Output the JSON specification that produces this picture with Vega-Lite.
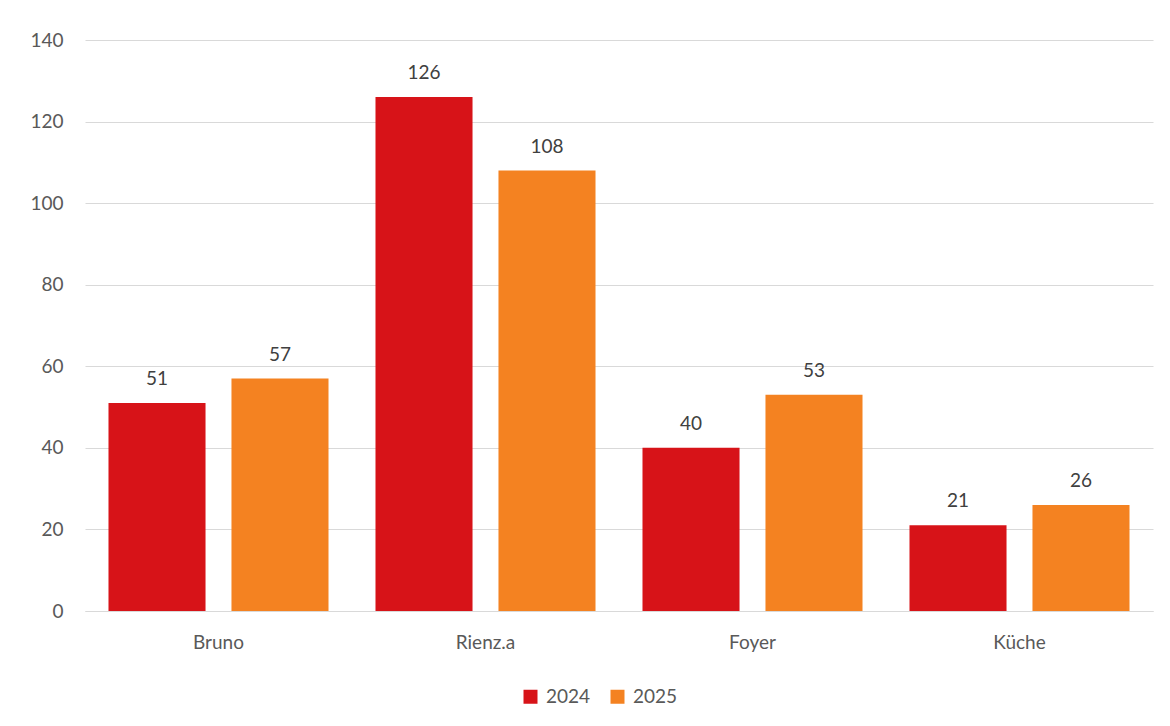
{
  "$schema": "https://vega.github.io/schema/vega-lite/v6.json",
  "width": 1068,
  "height": 571,
  "autosize": {"type": "none"},
  "padding": {"left": 85, "top": 40, "right": 17, "bottom": 115},
  "background": "white",
  "config": {
    "font": "Lato",
    "view": {"stroke": null},
    "axis": {"labelFont": "Lato", "labelColor": "#595959", "labelFontSize": 19, "titleFont": "Lato"},
    "legend": {"labelFont": "Lato", "labelColor": "#595959", "labelFontSize": 19}
  },
  "data": {
    "values": [
      {"Bereich": "Bruno", "Jahr": "2024", "Wert": 51},
      {"Bereich": "Bruno", "Jahr": "2025", "Wert": 57},
      {"Bereich": "Rienz.a", "Jahr": "2024", "Wert": 126},
      {"Bereich": "Rienz.a", "Jahr": "2025", "Wert": 108},
      {"Bereich": "Foyer", "Jahr": "2024", "Wert": 40},
      {"Bereich": "Foyer", "Jahr": "2025", "Wert": 53},
      {"Bereich": "Küche", "Jahr": "2024", "Wert": 21},
      {"Bereich": "Küche", "Jahr": "2025", "Wert": 26}
    ]
  },
  "encoding": {
    "x": {
      "field": "Bereich",
      "type": "nominal",
      "sort": ["Bruno", "Rienz.a", "Foyer", "Küche"],
      "scale": {"paddingInner": 0, "paddingOuter": 0},
      "axis": {"title": null, "labelAngle": 0, "ticks": false, "domain": true, "domainColor": "#d9d9d9", "domainWidth": 1, "labelPadding": 22, "grid": false}
    },
    "xOffset": {
      "field": "Jahr",
      "type": "nominal",
      "scale": {"paddingInner": 0.211, "paddingOuter": 0.191}
    },
    "y": {
      "field": "Wert",
      "type": "quantitative",
      "scale": {"domain": [0, 140]},
      "axis": {"title": null, "values": [0, 20, 40, 60, 80, 100, 120, 140], "ticks": false, "domain": false, "grid": true, "gridColor": "#d9d9d9", "gridWidth": 1, "labelPadding": 22}
    }
  },
  "layer": [
    {
      "mark": {"type": "bar"},
      "encoding": {
        "color": {
          "field": "Jahr",
          "type": "nominal",
          "scale": {"domain": ["2024", "2025"], "range": ["#D71318", "#F48221"]},
          "legend": {
            "title": null,
            "orient": "none",
            "direction": "horizontal",
            "legendX": 436,
            "legendY": 647,
            "symbolType": "square",
            "symbolSize": 196,
            "symbolStrokeWidth": 0,
            "labelOffset": 6,
            "columnPadding": 17
          }
        }
      }
    },
    {
      "mark": {"type": "text", "baseline": "bottom", "dy": -14, "fontSize": 19, "color": "#404040", "font": "Lato"},
      "encoding": {"text": {"field": "Wert", "type": "quantitative"}}
    }
  ]
}
